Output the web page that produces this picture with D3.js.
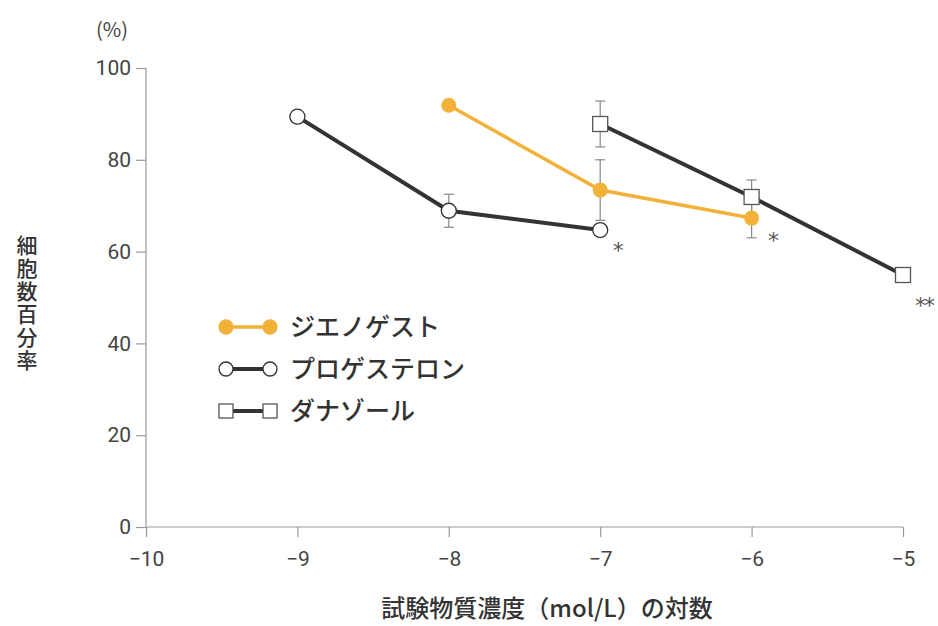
<!DOCTYPE html>
<html><head><meta charset="utf-8">
<script src="https://cdn.jsdelivr.net/npm/d3@7"></script>
<style>body{margin:0;background:#fff}svg{display:block}text{font-family:"Noto Sans CJK JP","Noto Sans",sans-serif}</style>
</head><body>
<script>
const xTicks = [-10, -9, -8, -7, -6, -5];
const yTicks = [0, 20, 40, 60, 80, 100];
const dienogestX = [-8, -7, -6];
const dienogestY = [91.9, 73.4, 67.3];
const dienogestErr = [0, 6.6, 4.3];
const progesteroneX = [-9, -8, -7];
const progesteroneY = [89.4, 68.9, 64.7];
const progesteroneErr = [0, 3.6, 0];
const danazolX = [-7, -6, -5];
const danazolY = [87.8, 71.9, 54.9];
const danazolErr = [5.0, 3.7, 0];
const seriesNames = ["ジエノゲスト", "プロゲステロン", "ダナゾール"];
const significance = [{x: -7, y: 64.7, t: "*"}, {x: -6, y: 67.3, t: "*"}, {x: -5, y: 54.9, t: "**"}];

const W = 938, H = 626;
const svg = d3.select("body").append("svg").attr("width", W).attr("height", H);
const x = d3.scaleLinear().domain([-10, -5]).range([146, 903]);
const y = d3.scaleLinear().domain([0, 100]).range([527, 68]);
const axisCol = "#999", textCol = "#444", dark = "#333", orange = "#F2B23A";

// axes
const xa = svg.append("g").attr("transform", `translate(0,${y(0)})`)
  .call(d3.axisBottom(x).tickValues(xTicks).tickSize(10).tickPadding(14).tickFormat(d => "−" + Math.abs(d)));
const ya = svg.append("g").attr("transform", `translate(${x(-10)},0)`)
  .call(d3.axisLeft(y).tickValues(yTicks).tickSize(10).tickPadding(5));
[xa, ya].forEach(a => {
  a.select(".domain").attr("stroke", axisCol).attr("stroke-width", 1.2);
  a.selectAll(".tick line").attr("stroke", axisCol).attr("stroke-width", 1.2);
  a.selectAll(".tick text").attr("fill", textCol).style("font-family", "Roboto, 'Noto Sans', sans-serif").attr("font-size", 21);
});
ya.select(".domain").attr("d", `M0,${y(100)}V${y(0)}`);
xa.select(".domain").attr("d", `M${x(-10)},0H${x(-5)}`);

svg.append("text").attr("x", 112).attr("y", 37).attr("text-anchor", "middle").attr("fill", textCol)
  .attr("font-size", 20).text("(%)");

// y label vertical
svg.append("text").attr("x", 27).attr("y", 235).attr("fill", "#333").attr("font-size", 21).attr("font-weight", 500)
  .style("writing-mode", "vertical-rl").style("text-orientation", "upright").style("letter-spacing", "2px")
  .text("細胞数百分率");

svg.append("text").attr("x", 547).attr("y", 617).attr("text-anchor", "middle").attr("fill", "#333")
  .attr("font-size", 24).attr("font-weight", 500).text("試験物質濃度（mol/L）の対数");

const line = d3.line().x(d => x(d[0])).y(d => y(d[1]));
function errBars(xs, ys, es) {
  xs.forEach((xv, i) => {
    if (!es[i]) return;
    const g = svg.append("g").attr("stroke", "#888").attr("stroke-width", 1.2);
    g.append("line").attr("x1", x(xv)).attr("x2", x(xv)).attr("y1", y(ys[i] + es[i])).attr("y2", y(ys[i] - es[i]));
    [ys[i] + es[i], ys[i] - es[i]].forEach(v => g.append("line").attr("x1", x(xv) - 5).attr("x2", x(xv) + 5).attr("y1", y(v)).attr("y2", y(v)));
  });
}
errBars(progesteroneX, progesteroneY, progesteroneErr);
errBars(dienogestX, dienogestY, dienogestErr);
errBars(danazolX, danazolY, danazolErr);

const pz = d3.zip(progesteroneX, progesteroneY), dz = d3.zip(dienogestX, dienogestY), az = d3.zip(danazolX, danazolY);
svg.append("path").attr("d", line(pz)).attr("fill", "none").attr("stroke", dark).attr("stroke-width", 4);
svg.append("path").attr("d", line(az)).attr("fill", "none").attr("stroke", dark).attr("stroke-width", 4);
svg.append("path").attr("d", line(dz)).attr("fill", "none").attr("stroke", orange).attr("stroke-width", 3.5);

svg.selectAll(".pc").data(pz).enter().append("circle").attr("cx", d => x(d[0])).attr("cy", d => y(d[1])).attr("r", 7.5)
  .attr("fill", "#fff").attr("stroke", dark).attr("stroke-width", 1.3);
svg.selectAll(".dc").data(dz).enter().append("circle").attr("cx", d => x(d[0])).attr("cy", d => y(d[1])).attr("r", 7.5)
  .attr("fill", orange);
svg.selectAll(".as").data(az).enter().append("rect").attr("x", d => x(d[0]) - 7.5).attr("y", d => y(d[1]) - 7.5)
  .attr("width", 15).attr("height", 15).attr("fill", "#fff").attr("stroke", "#555").attr("stroke-width", 1.3);

// significance marks
const offs = [[17, 28], [21, 30], [21, 38]];
significance.forEach((s, i) => svg.append("text").attr("x", x(s.x) + offs[i][0]).attr("y", y(s.y) + offs[i][1])
  .attr("text-anchor", "middle").attr("fill", "#555").attr("font-size", 22).style("font-family", "DejaVu Sans")
  .style("letter-spacing", "-2px").text(s.t));

// legend
const lg = [{c: orange, t: "circle", f: orange, w: 3.5, s: orange}, {c: dark, t: "circle", f: "#fff", w: 4, s: dark}, {c: dark, t: "rect", f: "#fff", w: 4, s: "#555"}];
lg.forEach((l, i) => {
  const ly = 327 + i * 42;
  svg.append("line").attr("x1", 226).attr("x2", 270).attr("y1", ly).attr("y2", ly).attr("stroke", l.c).attr("stroke-width", l.w);
  [226, 270].forEach(cx => {
    if (l.t === "circle") svg.append("circle").attr("cx", cx).attr("cy", ly).attr("r", 7).attr("fill", l.f).attr("stroke", l.s).attr("stroke-width", 1.3);
    else svg.append("rect").attr("x", cx - 7).attr("y", ly - 7).attr("width", 14).attr("height", 14).attr("fill", l.f).attr("stroke", l.s).attr("stroke-width", 1.3);
  });
  svg.append("text").attr("x", 290).attr("y", ly + 9).attr("fill", "#333").attr("font-size", 25).attr("font-weight", 500).text(seriesNames[i]);
});
</script>
</body></html>
